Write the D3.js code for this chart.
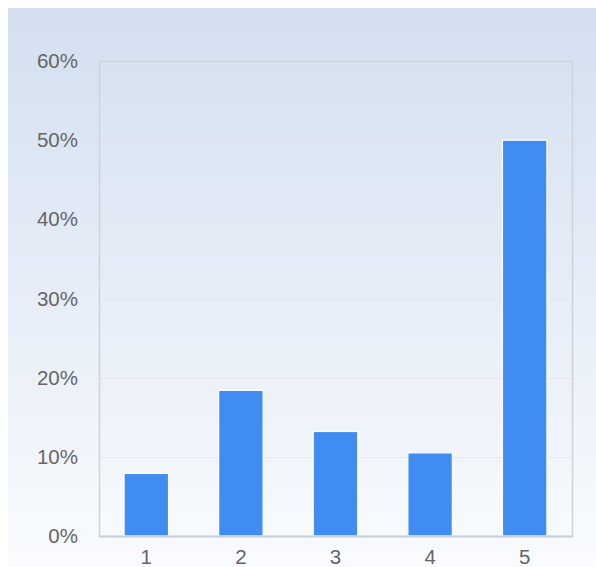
<!DOCTYPE html>
<html>
<head>
<meta charset="utf-8">
<script src="https://cdn.jsdelivr.net/npm/d3@7"></script>
<style>
  html, body { margin: 0; padding: 0; background: #fff; }
  svg { display: block; }
</style>
</head>
<body>
<svg id="chart" width="596" height="567"></svg>
<script>
// Rating distribution (share of responses per score)
const categories = ["1", "2", "3", "4", "5"];
const shares = [7.9, 18.4, 13.2, 10.5, 50];
const yTicks = [0, 10, 20, 30, 40, 50, 60];

const W = 596, H = 567;
const margin = { top: 61, right: 24, bottom: 31, left: 99 };
const plotW = W - margin.left - margin.right;
const plotH = H - margin.top - margin.bottom;

const svg = d3.select("#chart");

const defs = svg.append("defs");
const grad = defs.append("linearGradient")
  .attr("id", "bg").attr("x1", 0).attr("y1", 0).attr("x2", 0).attr("y2", 1);
grad.append("stop").attr("offset", "0%").attr("stop-color", "#d3dff0");
grad.append("stop").attr("offset", "100%").attr("stop-color", "#f9fbfe");

svg.append("rect")
  .attr("x", 8).attr("y", 8)
  .attr("width", W - 8).attr("height", H - 8)
  .attr("fill", "url(#bg)");

const x = d3.scaleBand().domain(categories).range([0, plotW]).paddingInner(0.53).paddingOuter(0.265);
const y = d3.scaleLinear().domain([0, 60]).range([plotH, 0]);

const g = svg.append("g").attr("transform", `translate(${margin.left},${margin.top})`);

// horizontal grid lines
g.append("g").selectAll("line").data(yTicks.slice(1, -1)).join("line")
  .attr("x1", 0).attr("x2", plotW)
  .attr("y1", d => Math.round(y(d)) + 0.5).attr("y2", d => Math.round(y(d)) + 0.5)
  .attr("stroke", "#e4e7ec").attr("stroke-width", 1);

// plot frame
g.append("rect")
  .attr("x", 0.5).attr("y", 0.5)
  .attr("width", plotW).attr("height", plotH)
  .attr("fill", "none").attr("stroke", "#cfd2d6").attr("stroke-width", 1.5);

// bars
g.append("g").selectAll("rect").data(shares).join("rect")
  .attr("x", (d, i) => x(categories[i]))
  .attr("width", x.bandwidth())
  .attr("y", d => y(d))
  .attr("height", d => plotH - y(d))
  .attr("fill", "#418cf0")
  .attr("stroke", "#ffffff").attr("stroke-width", 1.2);

// baseline
g.append("line")
  .attr("x1", 0).attr("x2", plotW + 1)
  .attr("y1", plotH + 0.5).attr("y2", plotH + 0.5)
  .attr("stroke", "#c9d1dd").attr("stroke-width", 2);

const font = "'Liberation Sans', Arial, sans-serif";

// y axis labels
const yAxis = d3.axisLeft(y).tickValues(yTicks).tickFormat(d => d + "%").tickSize(0).tickPadding(21);
g.append("g").call(yAxis)
  .call(s => s.select(".domain").remove())
  .call(s => s.selectAll("text")
    .attr("font-family", font).attr("font-size", 20.5).attr("fill", "#666"));

// x axis labels
const xAxis = d3.axisBottom(x).tickSize(0).tickPadding(13);
g.append("g").attr("transform", `translate(0,${plotH})`).call(xAxis)
  .call(s => s.select(".domain").remove())
  .call(s => s.selectAll("text")
    .attr("font-family", font).attr("font-size", 20.5).attr("fill", "#666"));
</script>
</body>
</html>
